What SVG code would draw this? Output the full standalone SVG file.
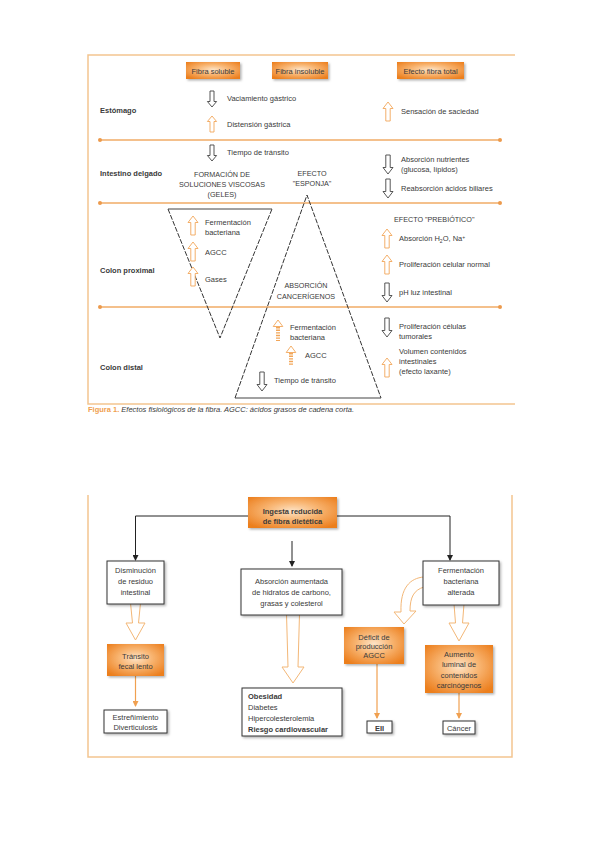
<svg xmlns="http://www.w3.org/2000/svg" width="599" height="848" viewBox="0 0 599 848">
<style>
.t{font-family:"Liberation Sans",Arial,sans-serif;font-size:7.5px;fill:#3a3a3a}
.s{font-size:7.2px}
.b{font-weight:bold}
.c{text-anchor:middle}
.frame{fill:none;stroke:#f3c590;stroke-width:1.5}
.div{stroke:#f0ab66;stroke-width:1.3}
.dot{fill:#ec9a4c}
.dn{fill:#fff;stroke:#444;stroke-width:0.9}
.up{fill:#fff;stroke:#f2a659;stroke-width:0.9}
.stripe{fill:none;stroke:#f2a659;stroke-width:4;stroke-dasharray:1.4 1.2}
.tri{fill:none;stroke:#333;stroke-width:1;stroke-dasharray:5 1.5}
.solid{stroke:#444;stroke-width:1.2}
.obox{fill:url(#og);filter:url(#sh)}
.wbox{fill:#fff;stroke:#333;stroke-width:1;filter:url(#sh)}
.conn{stroke:#222;stroke-width:1;fill:none}
.oconn{stroke:#f0a050;stroke-width:1.2;fill:none}
.hol{fill:#fff;stroke:#f3b777;stroke-width:1}
</style>
<defs>
<radialGradient id="og" cx="50%" cy="45%" r="65%">
<stop offset="0" stop-color="#fde3c6"/>
<stop offset="0.45" stop-color="#f8b572"/>
<stop offset="1" stop-color="#ec7f1e"/>
</radialGradient>
<filter id="sh" x="-20%" y="-20%" width="150%" height="150%">
<feDropShadow dx="1.5" dy="1.5" stdDeviation="1.2" flood-color="#000" flood-opacity="0.3"/>
</filter>
<path id="dnS" d="M-2 0H2V10.5H4.6L0 16L-4.6 10.5H-2Z"/>
<path id="upS" d="M-2 16H2V5.5H4.6L0 0L-4.6 5.5H-2Z"/>
<path id="dnL" d="M-2.2 0H2.2V12.5H5L0 19L-5 12.5H-2.2Z"/>
<path id="upL" d="M-2.2 19H2.2V6.5H5L0 0L-5 6.5H-2.2Z"/>
<marker id="ah" markerWidth="6" markerHeight="6" refX="5" refY="3" orient="auto" markerUnits="userSpaceOnUse">
<path d="M0 0L6 3L0 6Z" fill="#222"/>
</marker>
<marker id="oh" markerWidth="6" markerHeight="6" refX="5" refY="3" orient="auto" markerUnits="userSpaceOnUse">
<path d="M0 0L6 3L0 6Z" fill="#f0a050"/>
</marker>
</defs>
<rect width="599" height="848" fill="#fff"/>

<!-- ============ FIGURE 1 ============ -->
<g id="fig1-frame">
<path class="frame" d="M515 55H88V404H515"/>
</g>
<g id="dividers">
<line class="div" x1="100" y1="140" x2="500" y2="140"/><circle class="dot" cx="100" cy="140" r="2"/><circle class="dot" cx="500" cy="140" r="2"/>
<line class="div" x1="100" y1="203" x2="500" y2="203"/><circle class="dot" cx="100" cy="203" r="2"/><circle class="dot" cx="500" cy="203" r="2"/>
<line class="div" x1="100" y1="307" x2="500" y2="307"/><circle class="dot" cx="100" cy="307" r="2"/><circle class="dot" cx="500" cy="307" r="2"/>
</g>
<g id="headers">
<g id="h-soluble"><rect class="obox" x="186" y="62" width="54" height="17"/><text class="t c" x="213" y="73.5">Fibra soluble</text></g>
<g id="h-insoluble"><rect class="obox" x="272" y="62" width="56" height="17"/><text class="t c" x="300" y="73.5">Fibra insoluble</text></g>
<g id="h-total"><rect class="obox" x="397" y="62" width="67" height="17"/><text class="t c" x="430.5" y="73.5">Efecto fibra total</text></g>
</g>
<g id="rows">
<text class="t b" x="100" y="113">Estómago</text>
<text class="t b" x="100" y="176">Intestino delgado</text>
<text class="t b" x="100" y="273">Colon proximal</text>
<text class="t b" x="100" y="370">Colon distal</text>
</g>
<g id="triangles">
<path class="tri" d="M168 209L220 338L272 209"/>
<line class="solid" x1="168" y1="209" x2="272" y2="209"/>
<path class="tri" d="M235 398L307 195L381 398"/>
<line class="solid" x1="235" y1="398" x2="381" y2="398"/>
</g>
<g id="soluble-col">
<use href="#dnS" class="dn" x="212" y="91"/><text class="t" x="227" y="101">Vaciamiento gástrico</text>
<use href="#upS" class="up" x="212" y="116"/><text class="t" x="227" y="127">Distensión gástrica</text>
<use href="#dnS" class="dn" x="212" y="145"/><text class="t" x="227" y="155">Tiempo de tránsito</text>
<text class="t s c" x="222" y="177">FORMACIÓN DE</text>
<text class="t s c" x="222" y="187">SOLUCIONES VISCOSAS</text>
<text class="t s c" x="222" y="197">(GELES)</text>
<use href="#upL" class="up" x="193" y="216"/><text class="t" x="205" y="225">Fermentación</text><text class="t" x="205" y="235">bacteriana</text>
<use href="#upL" class="up" x="193" y="242"/><text class="t" x="205" y="255">AGCC</text>
<use href="#upL" class="up" x="193" y="267"/><text class="t" x="205" y="282">Gases</text>
</g>
<g id="insoluble-col">
<text class="t s c" x="312" y="176">EFECTO</text>
<text class="t s c" x="312" y="186">"ESPONJA"</text>
<text class="t s c" x="306" y="288">ABSORCIÓN</text>
<text class="t s c" x="306" y="299">CANCERÍGENOS</text>
<path class="up" d="M273.2 326.5L278 320L282.8 326.5Z"/><line class="stripe" x1="278" y1="327" x2="278" y2="341"/>
<text class="t" x="290" y="330">Fermentación</text><text class="t" x="290" y="340">bacteriana</text>
<path class="up" d="M286.2 352.5L291 346L295.8 352.5Z"/><line class="stripe" x1="291" y1="353" x2="291" y2="366"/>
<text class="t" x="305" y="358">AGCC</text>
<use href="#dnL" class="dn" x="262" y="372"/><text class="t" x="274" y="383">Tiempo de tránsito</text>
</g>
<g id="total-col">
<use href="#upL" class="up" x="388" y="102"/><text class="t" x="401" y="114">Sensación de saciedad</text>
<use href="#dnL" class="dn" x="388" y="155"/><text class="t" x="401" y="162">Absorción nutrientes</text><text class="t" x="401" y="172">(glucosa, lípidos)</text>
<use href="#dnL" class="dn" x="388" y="179"/><text class="t" x="401" y="191">Reabsorción ácidos biliares</text>
<text class="t s" x="394" y="222">EFECTO "PREBIÓTICO"</text>
<use href="#upL" class="up" x="387" y="229"/><text class="t" x="399" y="241">Absorción H<tspan font-size="5" dy="1.5">2</tspan><tspan dy="-1.5">O, Na</tspan><tspan font-size="5" dy="-2.5">+</tspan></text>
<use href="#upL" class="up" x="387" y="255"/><text class="t" x="399" y="267">Proliferación celular normal</text>
<use href="#dnL" class="dn" x="387" y="283"/><text class="t" x="399" y="295">pH luz intestinal</text>
<use href="#dnL" class="dn" x="387" y="318"/><text class="t" x="399" y="329">Proliferación células</text><text class="t" x="399" y="339">tumorales</text>
<use href="#upL" class="up" x="387" y="358"/><text class="t" x="399" y="354">Volumen contenidos</text><text class="t" x="399" y="364">intestinales</text><text class="t" x="399" y="374">(efecto laxante)</text>
</g>
<g id="caption">
<text class="t" x="88" y="412" font-size="6.8"><tspan fill="#f0a050" font-weight="bold">Figura 1.</tspan><tspan font-style="italic"> Efectos fisiológicos de la fibra. AGCC: ácidos grasos de cadena corta.</tspan></text>
</g>

<!-- ============ FIGURE 2 ============ -->
<g id="fig2-frame">
<path class="frame" d="M88 495V757H512V495"/>
</g>
<g id="connectors">
<path class="conn" d="M135.5 516H248M337 516H450" />
<path class="conn" d="M135.5 516V560" marker-end="url(#ah)"/>
<path class="conn" d="M450 516V560" marker-end="url(#ah)"/>
<path class="conn" d="M292 541V566" marker-end="url(#ah)"/>
<path class="hol" d="M130.5 603L132.5 623L126 623L135.5 640L145 623L138.5 623L140.5 603Z"/>
<path class="hol" d="M286.5 614L288 667L282 667L293 683L304 667L298 667L299.5 614Z"/>
<path class="hol" d="M454 604L455.5 623L449 623L459 641L469 623L462.5 623L464 604Z"/>
<path class="hol" d="M424 577C410 578 400 588 401 612L394 612L404 624L416 611L410 611C410 597 414 590 424 587Z"/>
<path class="oconn" d="M135.5 676V706" marker-end="url(#oh)"/>
<path class="oconn" d="M377 664V718" marker-end="url(#oh)"/>
<path class="oconn" d="M459 693V718" marker-end="url(#oh)"/>
</g>
<g id="n-ingesta"><rect class="obox" x="248" y="497" width="89" height="31"/><text class="t b c" x="292.5" y="513.5">Ingesta reducida</text><text class="t b c" x="292.5" y="523.5">de fibra dietética</text></g>
<g id="n-disminucion"><rect class="wbox" x="107" y="561" width="57" height="43"/><text class="t c" x="135.5" y="573">Disminución</text><text class="t c" x="135.5" y="584">de residuo</text><text class="t c" x="135.5" y="595">intestinal</text></g>
<g id="n-absorcion"><rect class="wbox" x="241" y="569" width="101" height="46"/><text class="t c" x="291.5" y="584">Absorción aumentada</text><text class="t c" x="291.5" y="595">de hidratos de carbono,</text><text class="t c" x="291.5" y="606">grasas y colesterol</text></g>
<g id="n-fermentacion"><rect class="wbox" x="423" y="561" width="76" height="44"/><text class="t c" x="461" y="573">Fermentación</text><text class="t c" x="461" y="584">bacteriana</text><text class="t c" x="461" y="595">alterada</text></g>
<g id="n-transito"><rect class="obox" x="107" y="644" width="57" height="32"/><text class="t c" x="135.5" y="659">Tránsito</text><text class="t c" x="135.5" y="669">fecal lento</text></g>
<g id="n-estrenimiento"><rect class="wbox" x="104" y="710" width="63" height="23"/><text class="t c" x="135.5" y="720">Estreñimiento</text><text class="t c" x="135.5" y="730">Diverticulosis</text></g>
<g id="n-obesidad"><rect class="wbox" x="242" y="688" width="100" height="48"/><text class="t b" x="248" y="699">Obesidad</text><text class="t" x="248" y="710">Diabetes</text><text class="t" x="248" y="721">Hipercolesterolemia</text><text class="t b" x="248" y="732">Riesgo cardiovascular</text></g>
<g id="n-deficit"><rect class="obox" x="344" y="627" width="60" height="37"/><text class="t c" x="374" y="640">Déficit de</text><text class="t c" x="374" y="649">producción</text><text class="t c" x="374" y="658">AGCC</text></g>
<g id="n-eii"><rect class="wbox" x="367" y="721" width="25" height="12"/><text class="t b c" x="379.5" y="730.5">EII</text></g>
<g id="n-aumento"><rect class="obox" x="425" y="645" width="68" height="48"/><text class="t c" x="459" y="657">Aumento</text><text class="t c" x="459" y="667">luminal de</text><text class="t c" x="459" y="678">contenidos</text><text class="t c" x="459" y="688">carcinógenos</text></g>
<g id="n-cancer"><rect class="wbox" x="443" y="721" width="32" height="13"/><text class="t c" x="459" y="730.5">Cáncer</text></g>
</svg>
